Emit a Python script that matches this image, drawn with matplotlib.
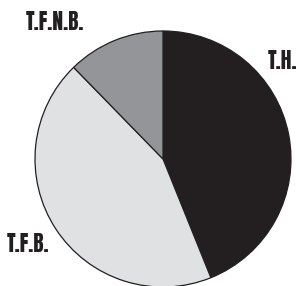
import matplotlib.pyplot as plt

labels = ["T.H.", "T.F.B.", "T.F.N.B."]
shares = [43.9, 43.8, 12.3]
colors = ["#231f20", "#e0e1e3", "#939598"]

# pixel layout of the reference (centre and radius in px)
W, H = 300, 286
cx, cy, r = 163, 159, 128

fig = plt.figure(figsize=(W / 100, H / 100), dpi=100)
ax = fig.add_axes([0, 0, 1, 1])

ax.pie(shares, colors=colors, startangle=90, counterclock=False,
       radius=1.0, wedgeprops=dict(edgecolor="#231f20", linewidth=0.9))

ax.set_aspect("auto")
ax.set_xlim(-cx / r, (W - cx) / r)
ax.set_ylim(-(H - cy) / r, cy / r)
ax.axis("off")

def px(x, y):
    return (x - cx) / r, (cy - y) / r

font = dict(family=["Anton", "DejaVu Sans"], fontsize=15.5,
            color="#231f20", va="center", ha="left")
ax.text(*px(268, 61), labels[0], **font)
ax.text(*px(7, 244), labels[1], **font)
ax.text(*px(26, 22), labels[2], **font)

fig.savefig("out.png", dpi=100)
